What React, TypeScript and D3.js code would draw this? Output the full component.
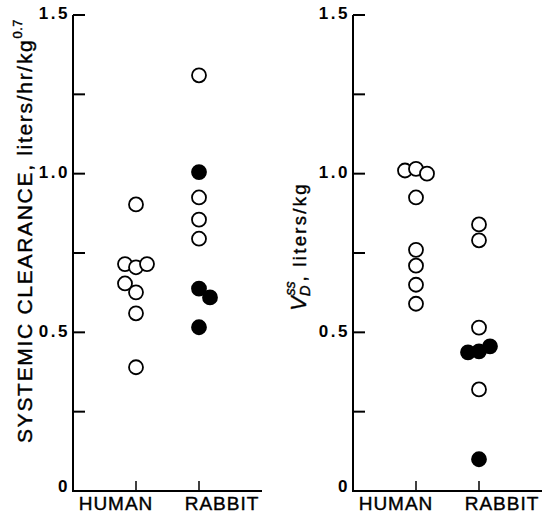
import React from "react";
import * as d3 from "d3";

// ---------- data ----------
const categories = ["HUMAN", "RABBIT"];
const yTickValues = [0, 0.25, 0.5, 0.75, 1.0, 1.25, 1.5];
const yTickLabels = ["0", "", "0.5", "", "1.0", "", "1.5"];

// left panel: systemic clearance
const clHumanOpen = [0.903, 0.715, 0.705, 0.715, 0.654, 0.626, 0.56, 0.39];
const clHumanOpenLane = [0, -1, 0, 1, -1, 0, 0, 0];
const clRabbitOpen = [1.31, 0.925, 0.855, 0.795];
const clRabbitOpenLane = [0, 0, 0, 0];
const clRabbitFilled = [1.005, 0.638, 0.61, 0.516];
const clRabbitFilledLane = [0, 0, 1, 0];

// right panel: Vd ss
const vdHumanOpen = [1.01, 1.015, 1.0, 0.925, 0.76, 0.71, 0.65, 0.59];
const vdHumanOpenLane = [-1, 0, 1, 0, 0, 0, 0, 0];
const vdRabbitOpen = [0.84, 0.79, 0.515, 0.32];
const vdRabbitOpenLane = [0, 0, 0, 0];
const vdRabbitFilled = [0.437, 0.44, 0.456, 0.1];
const vdRabbitFilledLane = [-1, 0, 1, 0];

type Pt = { cat: string; v: number; lane: number; filled: boolean };

function build(cat: string, vals: number[], lanes: number[], filled: boolean): Pt[] {
  return vals.map((v, i) => ({ cat, v, lane: lanes[i], filled }));
}

const leftPts: Pt[] = [
  ...build("HUMAN", clHumanOpen, clHumanOpenLane, false),
  ...build("RABBIT", clRabbitOpen, clRabbitOpenLane, false),
  ...build("RABBIT", clRabbitFilled, clRabbitFilledLane, true),
];
const rightPts: Pt[] = [
  ...build("HUMAN", vdHumanOpen, vdHumanOpenLane, false),
  ...build("RABBIT", vdRabbitOpen, vdRabbitOpenLane, false),
  ...build("RABBIT", vdRabbitFilled, vdRabbitFilledLane, true),
];

const FONT = "'Liberation Sans', Arial, Helvetica, sans-serif";

function Panel({ x0, pts, title }: { x0: number; pts: Pt[]; title: React.ReactNode }) {
  const axisW = 189;
  const x = d3.scaleLinear().domain([0, 3]).range([x0, x0 + axisW]);
  const catIdx = (c: string) => categories.indexOf(c) + 1;
  const y = d3.scaleLinear().domain([0, 1.5]).range([491, 15]);
  const laneW = 11;
  const r = 7;
  const labelOffsets = [-20, 23];
  return (
    <g>
      {title}
      {/* axes */}
      <line x1={x0} x2={x0} y1={y(1.5)} y2={y(0) + 1} stroke="#000" strokeWidth={2} />
      <line x1={x0} x2={x0 + axisW} y1={y(0)} y2={y(0)} stroke="#000" strokeWidth={2} />
      {yTickValues.map((t, i) =>
        t > 0 ? (
          <line key={"t" + i} x1={x0} x2={x0 + 12} y1={y(t)} y2={y(t)} stroke="#000" strokeWidth={2} />
        ) : null
      )}
      {yTickValues.map((t, i) =>
        yTickLabels[i] ? (
          <text
            key={"l" + i}
            x={x0 - 3}
            y={y(t) - (t === 0 ? 3 : 0)}
            textAnchor="end"
            dominantBaseline="middle"
            fontFamily={FONT}
            fontWeight="bold"
            fontSize={17}
            letterSpacing={2.5}
          >
            {yTickLabels[i]}
          </text>
        ) : null
      )}
      {categories.map((c, i) => (
        <g key={c}>
          <line x1={x(i + 1)} x2={x(i + 1)} y1={y(0)} y2={y(0) - 10} stroke="#000" strokeWidth={1.5} />
          <text
            x={x(i + 1) + labelOffsets[i]}
            y={510}
            textAnchor="middle"
            fontFamily={FONT}
            fontSize={19}
            letterSpacing={1}
            stroke="#000"
            strokeWidth={0.4}
          >
            {c}
          </text>
        </g>
      ))}
      {pts.map((p, i) => (
        <circle
          key={"p" + i}
          cx={x(catIdx(p.cat)) + p.lane * laneW}
          cy={y(p.v)}
          r={r}
          fill={p.filled ? "#000" : "#fff"}
          stroke="#000"
          strokeWidth={1.8}
        />
      ))}
    </g>
  );
}

export default function App() {
  const leftTitle = (
    <text
      transform="translate(32,443) rotate(-90)"
      fontFamily={FONT}
      fontSize={21}
      textAnchor="start"
      stroke="#000"
      strokeWidth={0.4}
      letterSpacing={1.7}
    >
      SYSTEMIC CLEARANCE, liters/hr/kg
      <tspan dy={-10} fontSize={13} letterSpacing={0.5}>0.7</tspan>
    </text>
  );
  const rightTitle = (
    <text
      transform="translate(306,311) rotate(-90)"
      fontFamily={FONT}
      fontSize={18.5}
      textAnchor="start"
      stroke="#000"
      strokeWidth={0.4}
    >
      <tspan fontStyle="italic" fontSize={22}>V</tspan>
      <tspan fontStyle="italic" fontSize={15} dy={4}>D</tspan>
      <tspan fontStyle="italic" fontSize={14} dx={-10} dy={-15}>ss</tspan>
      <tspan dy={11} letterSpacing={2.3}>, liters/kg</tspan>
    </text>
  );
  return (
    <svg
      width={545}
      height={515}
      style={{ position: "absolute", left: 0, top: 0, background: "#fff" }}
    >
      <rect width={545} height={515} fill="#fff" />
      <Panel x0={73} pts={leftPts} title={leftTitle} />
      <Panel x0={353} pts={rightPts} title={rightTitle} />
    </svg>
  );
}
